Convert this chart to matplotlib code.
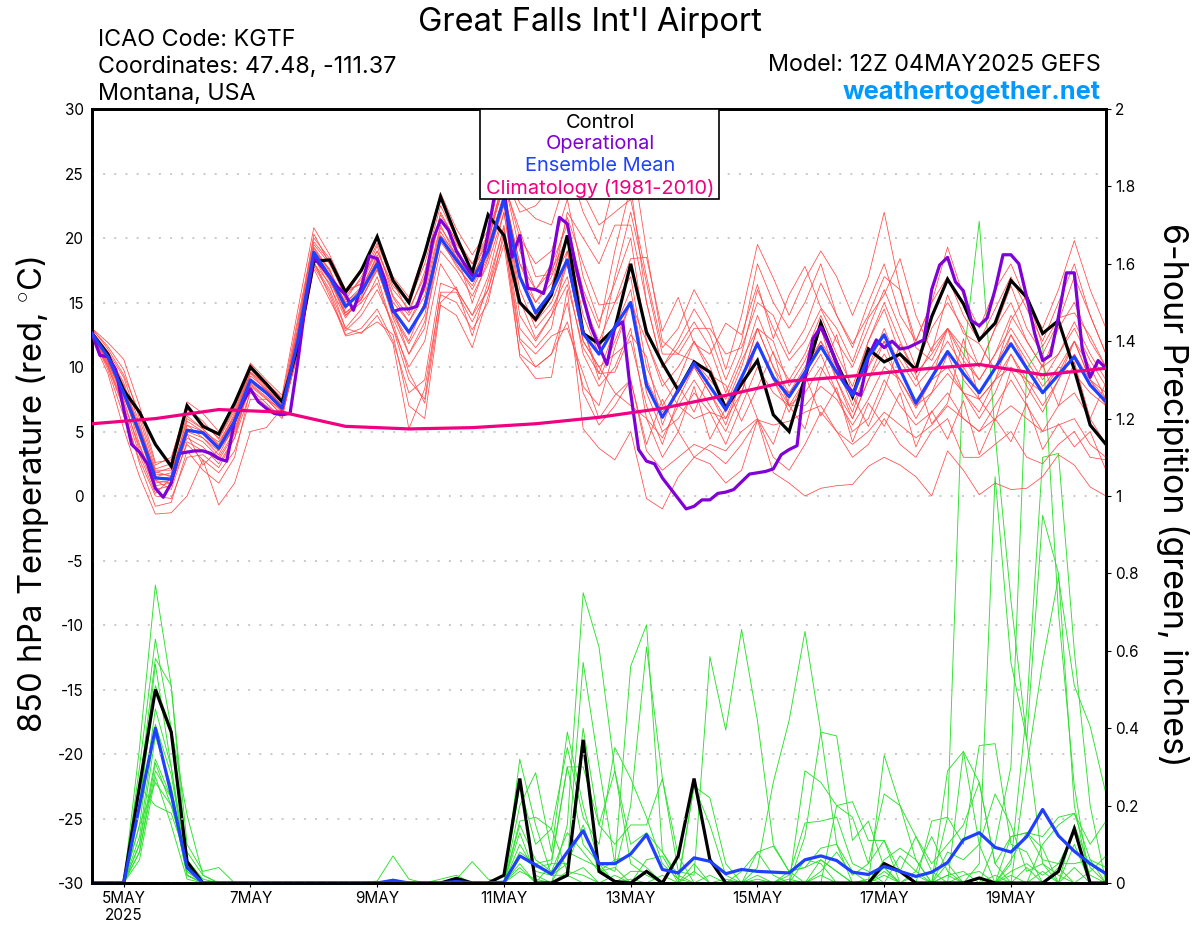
import numpy as np
import matplotlib
matplotlib.use("Agg")
import matplotlib.pyplot as plt
from matplotlib.patches import Rectangle

plt.rcParams["font.family"] = ["Inter", "DejaVu Sans"]
plt.rcParams["mathtext.fontset"] = "custom"
plt.rcParams["mathtext.rm"] = "Inter"
plt.rcParams["mathtext.default"] = "rm"

# 6-hourly steps, starting 12Z 4 May
tick_steps = [2, 10, 18, 26, 34, 42, 50, 58]
tick_labels = ["5MAY\n2025", "7MAY", "9MAY", "11MAY", "13MAY", "15MAY", "17MAY", "19MAY"]
temp_ticks = [30, 25, 20, 15, 10, 5, 0, -5, -10, -15, -20, -25, -30]
precip_ticks = [0, 0.2, 0.4, 0.6, 0.8, 1, 1.2, 1.4, 1.6, 1.8, 2]
precip_tick_labels = ["0", "0.2", "0.4", "0.6", "0.8", "1", "1.2", "1.4", "1.6", "1.8", "2"]

control_t = [12.6, 11, 8.2, 6.5, 4, 2.3, 7, 5.4, 4.8, 7.2, 10, 8.7, 7.3, 11.6, 18.2, 18.3, 15.8, 17.5, 20.1, 16.7,
             15, 18.8, 23.2, 20.1, 17.3, 21.8, 20.2, 15, 13.7, 15.6, 20.2, 12.6, 11.8, 13, 18, 12.7, 10.3, 8.2, 10.4, 9.6,
             6.8, 8.7, 10.5, 6.3, 5, 9.2, 13.4, 10.3, 7.7, 11.4, 10.4, 11, 9.8, 13.9, 16.8, 14.9, 12.1, 13.4, 16.7, 15.4,
             12.6, 13.6, 9.8, 5.5, 4]
mean_t = [12.6, 10.8, 8, 4.9, 1.4, 1.3, 5.1, 4.9, 3.7, 5.8, 9, 8, 6.8, 12.1, 18.9, 17, 14.7, 15.8, 18, 14.4,
          12.7, 14.7, 20, 18.3, 16.7, 19, 23, 17, 14.2, 15.8, 18.3, 12.6, 11, 13.1, 15, 8.6, 6.1, 8.2, 10.3, 8.5,
          6.7, 9.2, 11.8, 9.2, 7.7, 9.6, 11.6, 9.6, 7.8, 10.8, 12.5, 9.8, 7.2, 9.2, 11.2, 9.5, 8, 9.9, 11.8, 9.9,
          8, 9.4, 10.8, 8.6, 7.3]
# operational run is 3-hourly
oper_t = [12.6, 10.9, 10.8, 9.8, 6.7, 4, 3.4, 2.5, 0.6, -0.1, 1, 3.3, 3.4, 3.5, 3.5, 3.3, 2.9, 2.7, 5.8, 7.2,
          8.3, 7.3, 6.8, 6.4, 6.3, 6.4, 10.5, 15.2, 18.5, 17.8, 17, 16.2, 15.6, 14.4, 16.2, 18.6, 18.4, 16.7, 14.3, 14.5,
          14.5, 14.7, 16.5, 19.8, 21.4, 20.6, 19, 18, 17.1, 17.1, 20.4, 24, 24, 18.5, 20.2, 16.1, 16, 15.7, 18, 21.6,
          21.1, 18, 15.4, 13.1, 11.6, 10.2, 13.1, 13.5, 8, 3.6, 2.7, 2.5, 1.4, 0.6, -0.2, -1, -0.8, -0.3, -0.3, 0.2,
          0.3, 0.5, 1.1, 1.7, 1.8, 1.9, 2.1, 3.2, 3.6, 3.9, 9.2, 12.2, 13.1, 11.8, 10.3, 8.7, 8.1, 7.8, 10.8, 12.1,
          11.5, 12, 11.4, 11.5, 11.8, 12.1, 16, 17.9, 18.5, 16.6, 15.9, 13.6, 13.2, 13.8, 16, 18.7, 18.7, 18, 15.4, 12.6,
          10.5, 10.9, 13.9, 17.3, 17.3, 11.4, 9.2, 10.5, 9.9]
clim_steps = [0, 4, 8, 12, 16, 20, 24, 28, 32, 36, 40, 44, 48, 52, 56, 60, 64]
clim_t = [5.6, 6, 6.7, 6.5, 5.4, 5.2, 5.3, 5.6, 6.1, 6.8, 7.8, 8.9, 9.3, 9.8, 10.2, 9.4, 9.9]

control_p = [0, 0, 0, 0.25, 0.5, 0.39, 0.055, 0, 0, 0, 0, 0, 0, 0, 0, 0, 0, 0, 0, 0,
             0, 0, 0, 0.012, 0, 0, 0.02, 0.27, 0, 0, 0.02, 0.37, 0.03, 0.004, 0, 0.03, 0, 0.07, 0.27, 0.06,
             0, 0, 0, 0, 0, 0, 0, 0, 0, 0, 0.05, 0.03, 0, 0, 0, 0, 0.013, 0, 0, 0,
             0, 0.03, 0.14, 0, 0]
mean_p = [0, 0, 0, 0.2, 0.4, 0.23, 0.04, 0, 0, 0, 0, 0, 0, 0, 0, 0, 0, 0, 0, 0.007,
          0, 0, 0, 0.004, 0, 0, 0.002, 0.07, 0.047, 0.023, 0.08, 0.135, 0.05, 0.05, 0.075, 0.125, 0.035, 0.026, 0.065, 0.056,
          0.024, 0.035, 0.03, 0.028, 0.026, 0.06, 0.07, 0.058, 0.028, 0.022, 0.043, 0.03, 0.017, 0.028, 0.053, 0.112, 0.13, 0.092, 0.08, 0.12,
          0.19, 0.122, 0.082, 0.05, 0.024]

red_members = [
    [13, 11.9, 10.6, 7, 2.6, 2.8, 7.3, 6.4, 5, 7.3, 10.3, 9, 7.8, 14.5, 20.8, 18.7, 16, 17.6, 20, 17, 15.4, 19, 23.5, 20.7, 18.7, 20.6, 25.5, 22.7, 21.5, 21, 25, 23.5, 21, 22, 23, 17, 11.5, 13, 16, 13.7, 9.8, 14, 19.5, 16.9, 14, 16.8, 19, 17, 14, 17, 22, 16, 12, 15, 19.3, 15.5, 13, 16, 18, 15, 13, 16, 19.8, 16, 13],
    [12.2, 9.5, 5.2, 1.5, -1.4, -1.3, 0, 2.8, -0.7, 1, 5, 5.3, 6.8, 12, 18, 16.5, 13, 12.6, 14, 11.8, 5.2, 8.3, 15.6, 15, 12.9, 15, 20.5, 10.8, 9.1, 9.2, 16, 5.2, 3.7, 2.8, 5, -0.2, -1, 1.5, 3, 2.5, 1, 2, 5.9, 1.8, 1, 0, 0.6, 0.8, 0.9, 2.3, 3, 2.4, 1.5, 0, 3.5, 2, 0.1, 1, 0.5, 0.6, 1.5, 3.2, 2.4, 0.7, 0],
    [12.9, 11.6, 9.8, 6, 2.1, 2.5, 6.7, 5.6, 4.5, 6.8, 10.2, 8.7, 7.4, 13, 20.3, 18, 15.5, 16.8, 19, 16, 14.5, 17, 21.5, 19.5, 18, 20, 24.5, 19, 16, 18, 21, 16, 13, 19, 24, 15, 10, 12, 14.5, 12.5, 9, 12, 18, 15, 13, 15, 18, 14, 11.5, 15, 18, 14, 12, 15, 17, 14, 12, 14.5, 17, 14.5, 12, 15, 18, 14, 11],
    [12.5, 10.4, 7.5, 3.5, 0.5, 0.8, 4.8, 4.2, 3, 5, 8.7, 7.7, 6.5, 11, 18.5, 16.7, 14, 15.3, 17.6, 14, 11.8, 14, 19.7, 18, 16, 18.5, 22.5, 16, 13, 14.5, 17, 11, 8.5, 10, 13, 6, 4.5, 7, 9, 7, 5, 8, 12, 9, 6.5, 9, 13, 9, 6, 9, 12, 8.5, 6, 8, 11, 8, 6, 8, 11, 8.5, 6.5, 9, 12, 9, 7],
    [12.3, 10, 6.8, 2.5, -0.8, -0.5, 3.5, 2, 1, 3, 8.3, 7.2, 6, 11.5, 18, 16, 13, 14.5, 17, 13, 9, 7.5, 15.8, 15.8, 13.5, 16, 21, 13, 11.5, 13, 19, 13, 9, 12, 15, 8, 5, 6, 8, 6.5, 4, 7, 10, 8, 7, 8, 10, 8, 5, 6, 9, 7, 5.5, 6.5, 8, 6, 5, 7, 9, 7, 5, 7, 8, 6, 4],
    [12.6, 10.6, 8, 4, 0.8, 1, 4, 2.8, 1.8, 3.5, 7.5, 7.5, 6.3, 11.8, 18.8, 17, 14, 15, 16.5, 13, 10, 12, 18, 16, 14, 17, 22, 14, 12, 14, 18, 12, 10, 8, 7, 6, 3, 5, 3, 4, 3.5, 5, 6, 3, 2, 4, 6.5, 5, 3, 4, 6, 4, 3, 5, 6, 3, 3, 4, 5, 3, 2.5, 4, 5, 3, 2.8],
    [12.7, 11, 8.8, 5, 1.5, 1.8, 5.8, 5, 3.8, 6, 9.3, 8.3, 7, 12.5, 19.3, 17.5, 15, 16, 18.3, 15, 13.5, 15.5, 20.8, 19, 17, 19, 23.5, 18, 15, 17, 20, 15, 12, 15, 17, 10, 7, 9, 12, 10, 7, 10, 14, 11, 9, 11, 14, 11, 8.5, 12, 15, 12, 9.5, 11, 13, 11, 9, 11, 14, 12, 10, 11, 13.5, 11, 9],
    [12.4, 10.2, 7.2, 3.8, 1.3, 1.5, 5.5, 4.5, 3.2, 5.5, 8.8, 7.9, 6.6, 12, 18.5, 16.3, 13.8, 15.5, 18.2, 14.5, 11, 13.5, 19, 17.5, 15.5, 18, 22, 15, 13.5, 15, 18, 12, 10, 11, 12, 7, 4, 7.5, 10, 8, 5.5, 9, 13, 10, 8, 10, 12, 9, 6.5, 10, 13, 10, 7, 9, 13, 9, 7.5, 9, 12.5, 10, 8, 9.5, 12, 9, 8],
    [12.6, 10.7, 8.3, 5.2, 2, 2, 5.2, 4.8, 3.6, 6, 9.5, 8.2, 7, 13, 19.5, 18, 15.8, 16.5, 19.4, 15.5, 14, 16, 22, 19.7, 17.5, 20, 24, 17, 14, 16, 22, 20, 18, 21, 21, 15, 10, 11.5, 13.5, 11.5, 8, 11, 16, 13, 10.5, 12, 14.5, 12, 10, 13, 16, 13, 10, 13, 15, 13, 10, 13, 15, 12, 10, 13, 15, 12, 10],
    [12.8, 11.2, 9.2, 5.6, 1.8, 2.2, 6.2, 5.2, 4, 6.4, 9.8, 8.5, 7.2, 13.5, 19.7, 18.2, 16, 16.4, 19, 16.3, 15, 18, 22.5, 20, 18, 20.3, 24.5, 20, 18, 19, 23, 17, 13.5, 16.5, 20, 12, 8.5, 10, 12, 9.5, 6.5, 9, 13, 10, 7, 9, 11, 8, 6, 9, 11, 9, 6.8, 9, 10, 8, 6.5, 9, 11, 9, 7, 9, 11, 9, 7.5],
    [12.5, 10.3, 7.8, 4.5, 1, 1.2, 4.5, 3.8, 2.5, 4.5, 8, 7, 6.2, 11.5, 17.8, 15.8, 12.5, 13, 14.5, 12, 8, 9, 16.5, 16, 14, 16, 20, 12, 10, 11, 15, 8, 5.5, 7, 9, 3.5, 2, 3, 4, 3.5, 2.5, 4, 5.9, 5.5, 5.8, 6.5, 7, 5, 4, 5, 6.5, 5.5, 4.5, 5.5, 7, 6, 5, 6, 7, 6, 5, 5.5, 6, 4, 3],
    [12.4, 9.8, 6.2, 2.8, 0, -0.2, 3, 3.2, 2.2, 4.5, 9, 8, 6.6, 11, 18.2, 15.5, 12.4, 12.7, 13.5, 12.5, 7, 6, 14.8, 14, 11.5, 15.5, 19.5, 11, 10, 11, 13.5, 8.5, 7, 11.5, 15, 12, 9, 7, 6, 6.5, 6, 8, 11.8, 9, 7, 7, 8.5, 7.5, 5.5, 7.5, 10, 9, 7, 8, 9.5, 8, 7.5, 9, 10, 9, 8, 10, 9.5, 8, 7],
    [12.6, 10.9, 8.5, 5, 1.9, 1.5, 5.5, 5, 4.2, 6.2, 9.6, 8.6, 7.2, 13, 19.2, 17.4, 14.5, 16, 18.7, 15.4, 13.5, 16, 21, 18.5, 17, 19.5, 23.3, 18, 16, 17.5, 20, 14, 11, 17, 22, 16.5, 11, 11, 13, 13, 11, 11.5, 15, 14, 11, 13, 16.5, 14, 11.8, 14, 17, 16, 11.5, 10.5, 13, 11.5, 10, 13, 16.3, 13, 11, 13.5, 17, 14, 11],
    [12.5, 10.5, 7.7, 4.6, 1.2, 0.5, 4.2, 3.5, 2.8, 4.8, 8.5, 7.5, 6.7, 11.5, 18.4, 16.8, 14.2, 15.3, 17.5, 14.2, 12, 15, 20, 17.8, 16.3, 18.7, 22.8, 17, 15, 16.5, 19, 13, 9.5, 13, 16, 9, 6.5, 8, 10, 8, 6, 9, 12, 9, 8, 9.5, 12, 10, 7, 10, 12, 10.5, 8.5, 10, 12, 10, 8, 10, 12.5, 10.5, 8.5, 10, 12, 10, 7.5],
    [12.6, 10.8, 8, 4.8, 1.2, 1, 5, 4.5, 3.5, 5.5, 9, 8.2, 7, 12, 19, 17.2, 15, 16.2, 18.5, 14.5, 12.5, 15, 20.5, 18.5, 17, 19.5, 25, 22, 22.5, 24, 26, 22, 19.5, 24.5, 27, 19, 12, 11, 10.5, 9, 7.5, 10.5, 13, 12, 8.5, 10.5, 13.5, 10, 8, 12, 14.5, 11, 9, 11.5, 13, 10.5, 9, 11, 13, 11, 9, 11, 13, 10.5, 8.5],
    # these run out of phase with the mean in the second week
    [12.8, 11, 8.6, 5.4, 1.7, 1.6, 6, 5.2, 3.9, 6.2, 9.6, 8.4, 7, 12.8, 19, 17.6, 14.2, 15.2, 17.8, 13.8, 11, 13, 20.2, 18.8, 15, 18.4, 23, 15.2, 12.2, 14, 16.4, 11.5, 9.5, 9.6, 12.5, 10.8, 5.5, 8.6, 6.5, 9.4, 8.6, 5.8, 8.4, 11.2, 7, 5.2, 9.5, 12.5, 7.8, 5.4, 8.2, 11.8, 9.4, 5.6, 7.2, 12.2, 7.5, 5.8, 9.8, 7.6, 10.2, 7, 10.4, 6, 8.8],
    [12.3, 10.1, 7, 3.2, 0.2, 1.4, 4.8, 2.4, 3.6, 5.2, 8.6, 7.6, 6.2, 11.2, 17.6, 15.2, 12.8, 14, 16, 13.4, 9.6, 7.2, 15, 16.2, 12.4, 16.6, 20.8, 12.2, 11, 12.4, 13, 9.5, 6, 7.8, 9, 4, 7.5, 5, 8.5, 4.4, 6.8, 9.2, 6, 4, 7.6, 9.4, 6.2, 8.4, 4.2, 7.2, 5.4, 8, 3.8, 6.6, 4.4, 7.4, 3.2, 6, 4.2, 7.2, 3.6, 5.6, 3.8, 5, 2],
    [13, 11.4, 9.4, 6.4, 2.4, 3, 6.8, 5.8, 4.4, 6.6, 9.9, 8.8, 7.6, 13.8, 20, 18.4, 15.2, 17, 19.6, 16.6, 14.2, 17.4, 21.8, 19.8, 17.4, 19.8, 24.2, 20.6, 17, 17.2, 21.6, 18, 14.8, 15, 18.4, 18.5, 12.8, 15.4, 11.8, 11, 13.4, 12.5, 16.4, 12.2, 15.6, 17.8, 14.6, 13, 10.4, 13.8, 15.6, 18.4, 14, 11.2, 15.6, 12.6, 11.8, 9.8, 13.6, 15.6, 11.6, 13.8, 14.2, 12.4, 10],
]

# precip members: only the non-zero steps
green_members = [
    {3: .35, 4: .77, 5: .51, 6: .05, 30: .15, 31: .75, 32: .61, 33: .29, 34: .05, 35: .02, 41: .03, 42: .08, 43: .02, 46: .06, 47: .03, 50: .03, 54: .17, 55: 1.35, 56: 1.71, 57: 1.16, 58: .73, 59: .37, 60: .05, 61: .02},
    {3: .3, 4: .63, 5: .4, 6: .03, 27: .32, 28: .15, 29: .02, 30: .05, 31: .57, 32: .3, 33: .05, 34: .56, 35: .667, 36: .08, 37: .01, 39: .02, 56: .05, 57: 1.05, 58: .57, 59: .37, 60: .95, 61: .8, 62: .2},
    {3: .25, 4: .58, 5: .51, 6: .1, 7: .03, 8: .04, 27: .2, 28: .285, 29: .08, 30: .39, 31: .2, 32: .05, 33: .03, 34: .2, 35: .61, 36: .27, 37: .03, 38: .02, 39: .585, 40: .395, 41: .655, 42: .42, 43: .1, 44: .03, 59: .3, 60: .57, 61: .79, 62: .51, 63: .405, 64: .23},
    {3: .2, 4: .565, 5: .3, 6: .02, 27: .25, 28: .1, 29: .14, 30: .35, 31: .17, 32: .1, 33: .35, 34: .27, 35: .17, 36: .05, 37: .01, 38: .25, 39: .22, 40: .05, 54: .02, 57: .1, 58: .3, 59: 1.33, 60: 1.39, 61: .7, 62: .25},
    {3: .2, 4: .51, 5: .4, 6: .176, 7: .02, 29: .05, 30: .3, 31: .3, 32: .15, 33: .29, 34: .1, 35: .13, 36: .08, 37: .02, 42: .04, 43: .26, 44: .42, 45: .65, 46: .39, 47: .1, 50: .33, 51: .2, 52: .12, 53: .03, 55: .34, 56: .1, 58: .05, 59: .45, 60: 1.1, 61: 1.11, 62: .6, 63: .2},
    {3: .15, 4: .45, 5: .3, 6: .05, 27: .16, 28: .17, 29: .14, 30: .03, 31: .4, 32: .15, 33: .1, 34: .15, 35: .15, 36: .27, 37: .07, 45: .29, 46: .26, 47: .2, 48: .17, 49: .05, 50: .23, 51: .2, 52: .06, 54: .29, 55: .34, 56: .26, 57: .05, 60: .1, 61: .15, 62: .18, 63: .06},
    {3: .12, 4: .41, 5: .28, 6: .04, 27: .08, 28: .05, 29: .06, 30: .3, 31: .1, 32: .05, 44: .02, 45: .155, 46: .16, 47: .17, 48: .05, 49: .03, 51: .07, 52: .03, 58: .12, 59: .13, 60: .09, 62: .1},
    {3: .1, 4: .38, 5: .25, 6: .03, 27: .07, 28: .04, 29: .05, 30: .05, 31: .15, 32: .03, 33: .04, 38: .25, 39: .15, 40: .02, 45: .12, 46: .39, 47: .38, 48: .11, 49: .16, 50: .04, 53: .16, 54: .17, 55: .1, 56: .355, 57: .36, 58: .1, 59: .08},
    {3: .1, 4: .32, 5: .22, 6: .02, 27: .05, 42: .02, 47: .2, 48: .21, 49: .11, 50: .11, 51: .03, 52: .12, 53: .05, 54: .1, 55: .15, 56: .26, 57: .05, 58: .12, 59: .13, 60: .12, 61: .17, 62: .18, 63: .1, 64: .16},
    {3: .08, 4: .31, 5: .2, 6: .05, 23: .01, 24: .055, 25: .01, 27: .04, 30: .08, 31: .06, 32: .04, 34: .03, 35: .03, 44: .03, 45: .04, 46: .06, 47: .03, 50: .04, 54: .08, 55: .06, 56: .1, 57: .23, 58: .15, 59: .03, 60: .05, 62: .15, 63: .04},
    {3: .08, 4: .29, 5: .22, 6: .02, 18: .005, 19: .07, 20: .01, 22: .01, 23: .02, 27: .1, 28: .03, 29: .02, 30: .02, 42: .08, 43: .095, 44: .03, 45: .04, 46: .09, 47: .1, 48: .03, 50: .06, 51: .09, 52: .06, 55: .02, 56: .03, 58: .06, 59: .13, 60: .06, 61: .05, 62: .05, 63: .06, 64: .04},
    {3: .06, 4: .275, 5: .15, 6: .01, 27: .13, 28: .02, 30: .03, 31: .02, 33: .02, 35: .06, 36: .07, 38: .05, 44: .01, 46: .03, 47: .08, 48: .02, 49: .05, 50: .11, 52: .03, 53: .12, 54: .03, 58: .03, 59: .05, 60: .02, 61: .05, 62: .13, 63: .02},
    {3: .15, 4: .26, 5: .2, 6: .08, 7: .02, 27: .15, 28: .06, 29: .03, 30: .13, 31: .08, 32: .03, 33: .06, 34: .07, 35: .04, 40: .01, 45: .06, 46: .05, 49: .01, 52: .02, 54: .05, 57: .02, 59: .04, 61: .04, 63: .03, 64: .07},
    {3: .25, 4: .2, 5: .18, 6: .06, 7: .01, 19: .01, 27: .03, 28: .01, 30: .02, 31: .04, 34: .01, 36: .02, 38: .03, 42: .01, 46: .02, 50: .02, 54: .02, 55: .03, 58: .02, 60: .03, 62: .04},
]

steps = np.arange(65)
oper_steps = np.arange(129) / 2

fig = plt.figure(figsize=(12, 9.27), dpi=100)
ax2 = fig.add_axes([92 / 1200, 1 - 883 / 927, (1106 - 92) / 1200, (883 - 109) / 927])
ax = ax2.twinx()
ax2.yaxis.tick_right()
ax.yaxis.tick_left()
ax.set_zorder(2)
ax2.set_zorder(1)
ax.patch.set_visible(False)

ax.set_xlim(0, 64)
ax.set_ylim(-30, 30)
ax2.set_ylim(0, 2)
ax.grid(axis="y", color="#bbbbbb", linestyle=(0, (1.3, 6)), linewidth=1.1)
ax.set_axisbelow(True)

for m in green_members:
    g = np.zeros(65)
    for i, v in m.items():
        g[i] = v
    ax2.plot(steps, g, color="#2ce02c", linewidth=0.65)
ax2.plot(steps, control_p, color="black", linewidth=2.3, solid_joinstyle="miter")
ax2.plot(steps, mean_p, color="#2040ff", linewidth=2.3)

for m in red_members:
    ax.plot(steps, m, color="#ff4a4a", linewidth=0.55)
ax.plot(steps, control_t, color="black", linewidth=2.3, zorder=4, solid_joinstyle="miter")
ax.plot(oper_steps, oper_t, color="#8000d8", linewidth=2.3, zorder=5)
ax.plot(steps, mean_t, color="#2040ff", linewidth=2.3, zorder=6)
ax.plot(clim_steps, clim_t, color="#f00080", linewidth=2.3, zorder=7)

ax2.set_xticks(tick_steps)
ax2.set_xticklabels(tick_labels, fontsize=11, linespacing=1.15)
ax2.tick_params(axis="x", length=3, width=0.8, pad=3)
ax2.set_yticks(precip_ticks)
ax2.set_yticklabels(precip_tick_labels, fontsize=11)
ax2.tick_params(axis="y", length=3.5, width=0.8, pad=3)
ax.set_yticks(temp_ticks)
ax.set_yticklabels([str(t) for t in temp_ticks], fontsize=11)
ax.tick_params(axis="y", length=0, pad=6)
for a in (ax, ax2):
    for s in a.spines.values():
        s.set_linewidth(2.0)


def put(x, y, s, **kw):
    kw.setdefault("va", "center")
    fig.text(x / 1200, 1 - y / 927, s, **kw)


put(590, 22, "Great Falls Int'l Airport", fontsize=23.5, ha="center")
put(98, 39.5, "ICAO Code: KGTF", fontsize=16.8)
put(98, 67, "Coordinates: 47.48, -111.37", fontsize=16.8)
put(98, 94.5, "Montana, USA", fontsize=16.8)
put(1101, 65, "Model: 12Z 04MAY2025 GEFS", fontsize=16.8, ha="right")
put(1101, 92, "weathertogether.net", fontsize=18.3, ha="right", color="#0099ff", fontweight="bold")

put(33, 495, "850 hPa Temperature (red, $^{\\circ}$C)", fontsize=23.6, rotation=90, ha="center")
put(1172, 495, "6-hour Precipition (green, inches)", fontsize=24.5, rotation=270, ha="center")

fig.add_artist(Rectangle((480 / 1200, 1 - 199 / 927), 239 / 1200, 90 / 927, transform=fig.transFigure,
                         facecolor="white", edgecolor="black", linewidth=1.2, zorder=5))
for y, s, c in [(122.5, "Control", "black"), (144, "Operational", "#8000d8"),
                (166, "Ensemble Mean", "#2040ff"), (188, "Climatology (1981-2010)", "#f00080")]:
    put(600, y, s, fontsize=14.4, ha="center", color=c, zorder=6)

fig.savefig("out.png", dpi=100)
